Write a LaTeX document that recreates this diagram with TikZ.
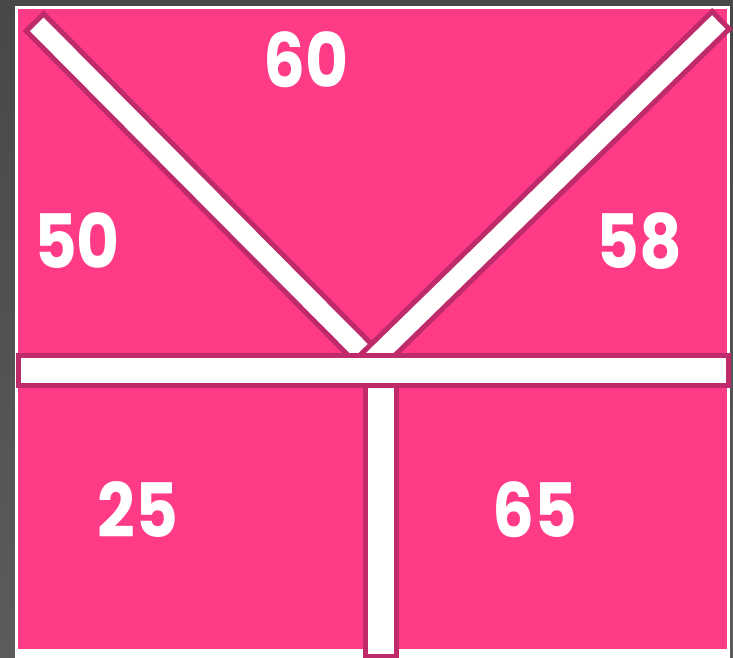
\documentclass[tikz,border=0pt]{standalone}
\usepackage{fontspec}
\setmainfont{Poppins}
\definecolor{bgray}{RGB}{72,72,72}
\definecolor{bgray2}{RGB}{92,92,92}
\definecolor{hotpink}{RGB}{255,59,136}
\definecolor{barline}{RGB}{190,42,106}
\tikzset{
  barbox/.style={draw=barline, fill=white, line width=5pt, inner sep=0pt, outer sep=0pt, rectangle},
  numlabel/.style={text=white, inner sep=0pt, xscale=0.88, font=\fontsize{75}{75}\selectfont\bfseries}
}
\begin{document}
\begin{tikzpicture}[x=1pt,y=-1pt]
\useasboundingbox (0,0) rectangle (733,658);
% background
\shade[top color=bgray, bottom color=bgray2] (0,0) rectangle (733,658);
\fill[white] (15,6) rectangle (730,658);
\fill[hotpink] (17.5,9) rectangle (727,649);
% labels
\node[numlabel] (n60) at (306,59.5) {60};
\node[numlabel] (n50) at (77,241) {50};
\node[numlabel] (n58) at (639,241) {58};
\node[numlabel] (n25) at (138,510) {25};
\node[numlabel] (n65) at (535,510) {65};
% diagonal bars
\node[barbox, minimum width=490pt, minimum height=24.5pt, rotate=-45.2] (leftbar) at (207.5,196.25) {};
\node[barbox, minimum width=503.6pt, minimum height=24.5pt, rotate=44.3] (rightbar) at (540.5,196.1) {};
% vertical bar
\node[barbox, minimum width=30.5pt, minimum height=271pt, anchor=north] (vbar) at (380.75,385) {};
% horizontal bar
\node[barbox, minimum width=710pt, minimum height=29.5pt] (hbar) at (373.5,370.25) {};
\end{tikzpicture}
\end{document}
